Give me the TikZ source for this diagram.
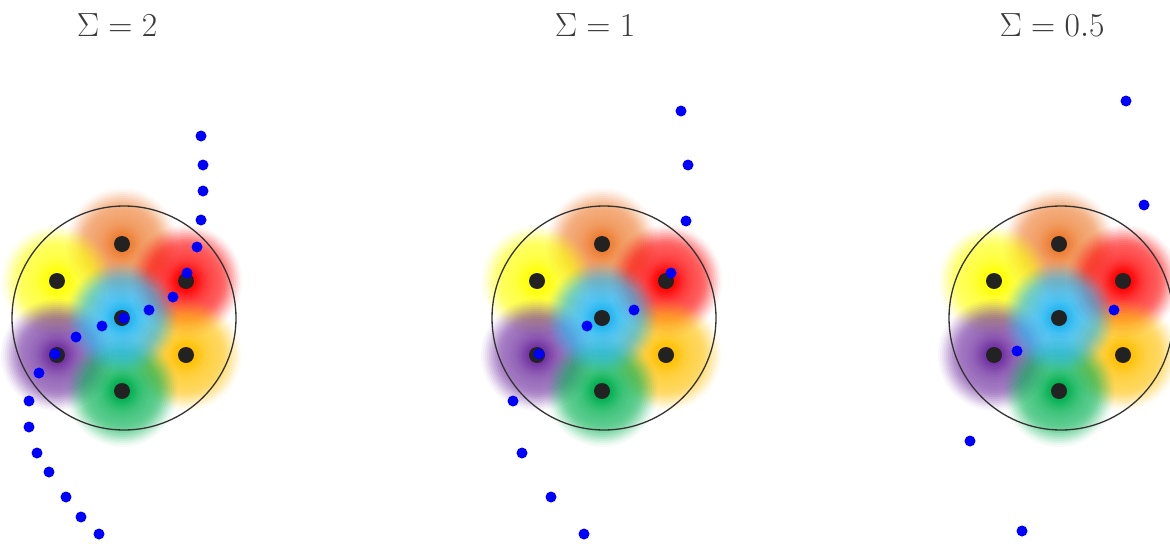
\RequirePackage{fix-cm}
\documentclass[tikz,border=0pt]{standalone}
\definecolor{cOrange}{HTML}{ED7D31}
\definecolor{cYellow}{HTML}{FFFF00}
\definecolor{cRed}{HTML}{FF0000}
\definecolor{cSky}{HTML}{20B4F0}
\definecolor{cPurple}{HTML}{7030A0}
\definecolor{cGold}{HTML}{FFC000}
\definecolor{cGreen}{HTML}{00B050}
\definecolor{cDot}{HTML}{222222}
\definecolor{cRing}{HTML}{333333}
\definecolor{cTitle}{HTML}{3A3A3A}
\tikzset{
  ring/.style={draw=cRing, line width=1.3pt},
  bdot/.style={circle, fill=cDot, inner sep=0pt, minimum size=16pt},
  udot/.style={circle, fill=blue, inner sep=0pt, minimum size=11pt},
  title/.style={text=cTitle, font=\fontsize{33.5}{40}\selectfont, anchor=base}
}
% soft blob: nested discs; list gives radius / cumulative opacity inside it
\newcommand\softblob[3]{% colour, x, y
  \foreach \r/\p [remember=\p as \pp (initially 0)] in
    {56/0.04,54/0.09,52/0.15,50/0.22,48/0.29,46/0.36,44/0.43,42/0.50,40/0.56,
     38/0.60,36/0.63,34/0.65,32/0.67,30/0.68,28/0.70,26/0.72,24/0.74,22/0.76,
     20/0.79,18/0.82,16/0.86,14/0.90,12/0.94,10/0.97,8/1}{%
    \pgfmathsetmacro\aa{1-(1-\p)/(1-\pp)}%
    \fill[#1, fill opacity=\aa] (#2,#3) circle (\r pt);
  }}
\newcommand\hexpanel[2]{%
  \begin{scope}[shift={(#2,318)}]
    \softblob{cOrange}{0}{-74}
    \softblob{cYellow}{-65}{-37}
    \softblob{cRed}{64}{-37}
    \softblob{cPurple}{-65}{37}
    \softblob{cGold}{64}{37}
    \softblob{cGreen}{0}{73}
    \softblob{cSky}{0}{0}
    \draw[ring] (2,0) circle (112pt);
    \node[bdot] (#1c)  at (0,0) {};
    \node[bdot] (#1t)  at (0,-74) {};
    \node[bdot] (#1tl) at (-65,-37) {};
    \node[bdot] (#1tr) at (64,-37) {};
    \node[bdot] (#1bl) at (-65,37) {};
    \node[bdot] (#1br) at (64,37) {};
    \node[bdot] (#1b)  at (0,73) {};
  \end{scope}}
\begin{document}
\begin{tikzpicture}[x=1pt,y=-1pt]
\useasboundingbox (0,0) rectangle (1170,546);
\hexpanel{a}{122}
\hexpanel{b}{602}
\hexpanel{c}{1059}
% titles
\node[title] (ta) at (117,36) {$\Sigma = 2$};
\node[title] (tb) at (595,36) {$\Sigma = 1$};
\node[title] (tc) at (1052,36) {$\Sigma = 0.5$};
% panel 1 trajectory
\foreach \x/\y [count=\i] in {201/136,203/165,203/191,201/220,197/247,187/273,173/297,149/310,124/318,102/326,76/337,55/354,39/373,29/401,29/427,37/453,49/472,66/497,81/517,99/534}
  \node[udot] (pa\i) at (\x,\y) {};
% panel 2 trajectory
\foreach \x/\y [count=\i] in {681/111,688/165,686/221,671/273,634/310,587/326,539/354,513/401,522/453,551/497,584/534}
  \node[udot] (pb\i) at (\x,\y) {};
% panel 3 trajectory
\foreach \x/\y [count=\i] in {1126/101,1144/205,1114/310,1017/351,970/441,1022/531}
  \node[udot] (pc\i) at (\x,\y) {};
\end{tikzpicture}
\end{document}
